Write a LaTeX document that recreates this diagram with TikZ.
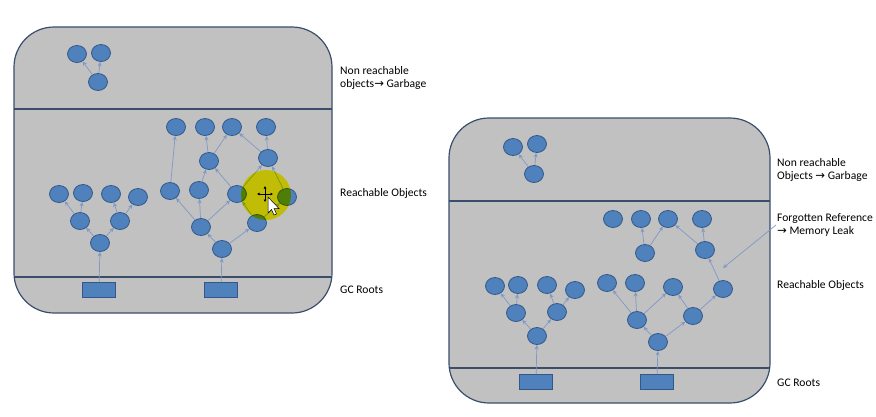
\documentclass[tikz,border=0pt]{standalone}
\usepackage{fontspec}
\setmainfont{Carlito}
\newfontfamily\arrowfont{DejaVu Sans}
\usepackage{xcolor}
\usetikzlibrary{shapes.geometric,positioning}
\usetikzlibrary{arrows.meta}

\definecolor{panelgrey}{RGB}{193,193,193}
\definecolor{panelline}{RGB}{58,78,108}
\definecolor{objblue}{RGB}{79,129,189}
\definecolor{objedge}{RGB}{50,88,136}
\definecolor{refline}{RGB}{128,152,198}
\definecolor{hilite}{RGB}{255,250,10}

\tikzset{
  obj/.style={draw=objedge, fill=objblue, ellipse, minimum width=19pt, minimum height=17pt, inner sep=0pt, line width=0.8pt},
  gcroot/.style={draw=objedge, fill=objblue, rectangle, minimum width=33pt, minimum height=15pt, inner sep=0pt, line width=0.8pt},
  ref/.style={draw=refline, line width=0.7pt, -{Stealth[length=4.5pt,width=4pt]}},
  lbl/.style={anchor=west, align=left, inner xsep=1pt, font=\fontsize{11.6}{13.5}\selectfont},
  panel/.style={draw=panelline, fill=panelgrey, line width=1.2pt, rounded corners=40pt},
  divider/.style={draw=panelline, line width=1.2pt},
  movetip/.style={line width=0.9pt, -{Latex[length=2.5pt,width=3pt]}}
}

\begin{document}
\begin{tikzpicture}[x=1pt, y=-1pt]

\useasboundingbox (0,0) rectangle (876,416);

% before: every object still reachable
\draw[panel] (14,27) rectangle (332,313);
\draw[divider] (14,109) -- (332,109);
\draw[divider] (14,277) -- (332,277);

\node[obj] (agA) at (77,54) {};
\node[obj] (agB) at (101,53) {};
\node[obj] (agC) at (98,82) {};

\node[gcroot] (aroot1) at (99,290) {};
\node[obj] (at1) at (100,243) {};
\node[obj] (at2) at (80,221) {};
\node[obj] (at3) at (120,221) {};
\node[obj] (at4) at (59,194) {};
\node[obj] (at5) at (83,193) {};
\node[obj] (at6) at (111,194) {};
\node[obj] (at7) at (138,197) {};

\node[gcroot] (aroot2) at (221,290) {};
\node[obj] (au1) at (222,249) {};
\node[obj] (au2) at (201,227) {};
\node[obj] (au3) at (257,223) {};
\node[obj] (au4) at (170,191) {};
\node[obj] (au5) at (199,190) {};
\node[obj] (au6) at (237,194) {};
\node[obj] (au7) at (287,197) {};
\node[obj] (au8) at (209,161) {};
\node[obj] (au9) at (268,158) {};
\node[obj] (au10) at (176,127) {};
\node[obj] (au11) at (205,127) {};
\node[obj] (au12) at (232,127) {};
\node[obj] (au13) at (266,127) {};

\draw[ref] (agC) -- (agA);
\draw[ref] (agC) -- (agB);

\draw[ref] (aroot1) -- (at1);
\draw[ref] (at1) -- (at2);
\draw[ref] (at1) -- (at3);
\draw[ref] (at2) -- (at4);
\draw[ref] (at2) -- (at5);
\draw[ref] (at3) -- (at6);
\draw[ref] (at3) -- (at7);

\draw[ref] (aroot2) -- (au1);
\draw[ref] (au1) -- (au2);
\draw[ref] (au1) -- (au3);
\draw[ref] (au2) -- (au4);
\draw[ref] (au2) -- (au5);
\draw[ref] (au2) -- (au6);
\draw[ref] (au3) -- (au6);
\draw[ref] (au3) -- (au7);
\draw[ref] (au4) -- (au10);
\draw[ref] (au5) -- (au8);
\draw[ref] (au6) -- (au8);
\draw[ref] (au6) -- (au9);
\draw[ref] (au7) -- (au9);
\draw[ref] (au8) -- (au11);
\draw[ref] (au8) -- (au12);
\draw[ref] (au9) -- (au12);
\draw[ref] (au9) -- (au13);

% cursor highlight from the recording
\fill[hilite, blend mode=multiply] (266,195) circle[radius=25];
\draw[movetip] (265,194) -- (265,186);
\draw[movetip] (265,194) -- (265,202);
\draw[movetip] (265,194) -- (257,194);
\draw[movetip] (265,194) -- (273,194);
\draw[fill=white, line width=0.5pt] (268,197) -- (268,213) -- (271.5,209.5) -- (274,215) -- (276.5,214) -- (274,208.5) -- (279,208.5) -- cycle;

\node[lbl] (agarbage) at (339,78) {Non reachable\\objects{\arrowfont →} Garbage};
\node[lbl] (areach) at (339,193) {Reachable Objects};
\node[lbl] (agc) at (339,290) {GC Roots};

% after: forgotten reference
\draw[panel] (449,118) rectangle (770,403);
\draw[divider] (449,201) -- (770,201);
\draw[divider] (449,368) -- (770,368);

\node[obj] (bgA) at (513,147) {};
\node[obj] (bgB) at (537,144) {};
\node[obj] (bgC) at (534,174) {};

\node[gcroot] (broot1) at (536,382) {};
\node[obj] (bt1) at (537,336) {};
\node[obj] (bt2) at (516,313) {};
\node[obj] (bt3) at (557,312) {};
\node[obj] (bt4) at (495,286) {};
\node[obj] (bt5) at (518,285) {};
\node[obj] (bt6) at (547,285) {};
\node[obj] (bt7) at (575,290) {};

\node[gcroot] (broot2) at (657,382) {};
\node[obj] (bu1) at (658,342) {};
\node[obj] (bu2) at (637,320) {};
\node[obj] (bu3) at (693,316) {};
\node[obj] (bu4) at (607,283) {};
\node[obj] (bu5) at (635,283) {};
\node[obj] (bu6) at (673,287) {};
\node[obj] (bu7) at (723,289) {};
\node[obj] (bu8) at (645,253) {};
\node[obj] (bu9) at (705,250) {};
\node[obj] (bu10) at (613,219) {};
\node[obj] (bu11) at (641,219) {};
\node[obj] (bu12) at (668,219) {};
\node[obj] (bu13) at (702,219) {};

\draw[ref] (bgC) -- (bgA);
\draw[ref] (bgC) -- (bgB);

\draw[ref] (broot1) -- (bt1);
\draw[ref] (bt1) -- (bt2);
\draw[ref] (bt1) -- (bt3);
\draw[ref] (bt2) -- (bt4);
\draw[ref] (bt2) -- (bt5);
\draw[ref] (bt3) -- (bt6);
\draw[ref] (bt3) -- (bt7);

\draw[ref] (broot2) -- (bu1);
\draw[ref] (bu1) -- (bu2);
\draw[ref] (bu1) -- (bu3);
\draw[ref] (bu2) -- (bu4);
\draw[ref] (bu2) -- (bu5);
\draw[ref] (bu2) -- (bu6);
\draw[ref] (bu3) -- (bu6);
\draw[ref] (bu3) -- (bu7);
\draw[ref] (bu7) -- (bu9);
\draw[ref] (bu8) -- (bu11);
\draw[ref] (bu8) -- (bu12);
\draw[ref] (bu9) -- (bu12);
\draw[ref] (bu9) -- (bu13);

\node[lbl] (bgarbage) at (776,170) {Non reachable\\Objects {\arrowfont →} Garbage};
\node[lbl] (bforgot) at (776,225) {Forgotten Reference\\{\arrowfont →} Memory Leak};
\node[lbl] (breach) at (776,285) {Reachable Objects};
\node[lbl] (bgc) at (776,383) {GC Roots};

\coordinate (leak) at (723,268);
\draw[ref] (bforgot.west) -- (leak);

\end{tikzpicture}
\end{document}
